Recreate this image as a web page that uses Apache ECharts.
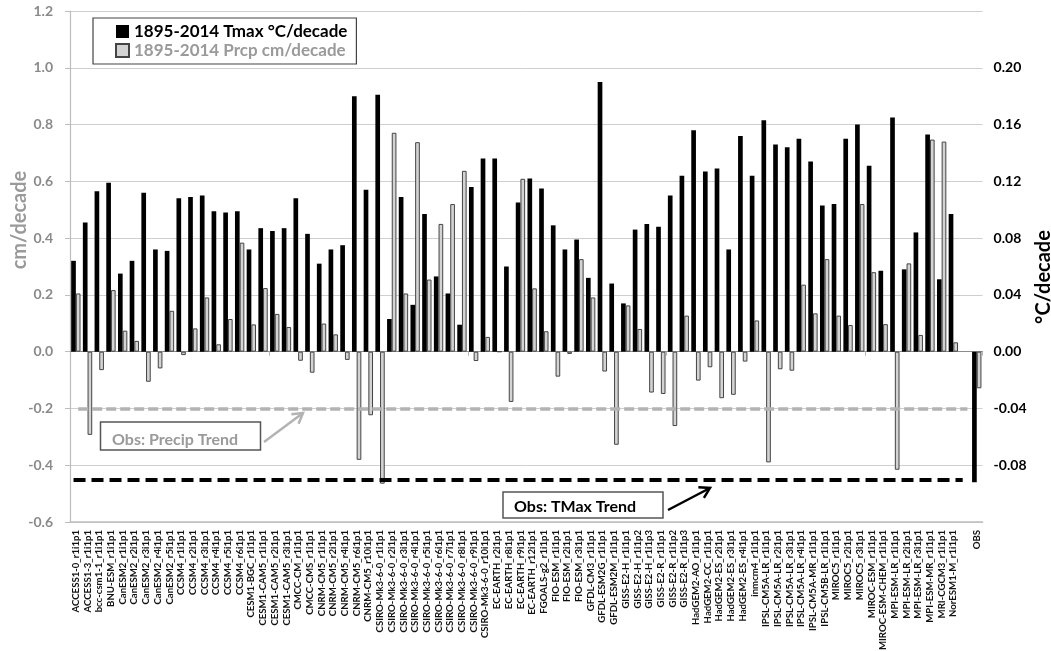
<!DOCTYPE html>
<html><head><meta charset="utf-8">
<script src="https://cdn.jsdelivr.net/npm/echarts@6/dist/echarts.min.js"></script>
<style>html,body{margin:0;padding:0;background:#fff}#c{width:1051px;height:651px}</style>
</head><body><div id="c"></div>
<script>
const categories = [
  'ACCESS1-0_r1i1p1','ACCESS1-3_r1i1p1','bcc-csm1-1_r1i1p1','BNU-ESM_r1i1p1',
  'CanESM2_r1i1p1','CanESM2_r2i1p1','CanESM2_r3i1p1','CanESM2_r4i1p1','CanESM2_r5i1p1',
  'CCSM4_r1i1p1','CCSM4_r2i1p1','CCSM4_r3i1p1','CCSM4_r4i1p1','CCSM4_r5i1p1','CCSM4_r6i1p1',
  'CESM1-BGC_r1i1p1','CESM1-CAM5_r1i1p1','CESM1-CAM5_r2i1p1','CESM1-CAM5_r3i1p1',
  'CMCC-CM_r1i1p1','CMCC-CMS_r1i1p1',
  'CNRM-CM5_r1i1p1','CNRM-CM5_r2i1p1','CNRM-CM5_r4i1p1','CNRM-CM5_r6i1p1','CNRM-CM5_r10i1p1',
  'CSIRO-Mk3-6-0_r1i1p1','CSIRO-Mk3-6-0_r2i1p1','CSIRO-Mk3-6-0_r3i1p1','CSIRO-Mk3-6-0_r4i1p1',
  'CSIRO-Mk3-6-0_r5i1p1','CSIRO-Mk3-6-0_r6i1p1','CSIRO-Mk3-6-0_r7i1p1','CSIRO-Mk3-6-0_r8i1p1',
  'CSIRO-Mk3-6-0_r9i1p1','CSIRO-Mk3-6-0_r10i1p1',
  'EC-EARTH_r2i1p1','EC-EARTH_r8i1p1','EC-EARTH_r9i1p1','EC-EARTH_r12i1p1',
  'FGOALS-g2_r1i1p1','FIO-ESM_r1i1p1','FIO-ESM_r2i1p1','FIO-ESM_r3i1p1',
  'GFDL-CM3_r1i1p1','GFDL-ESM2G_r1i1p1','GFDL-ESM2M_r1i1p1',
  'GISS-E2-H_r1i1p1','GISS-E2-H_r1i1p2','GISS-E2-H_r1i1p3',
  'GISS-E2-R_r1i1p1','GISS-E2-R_r1i1p2','GISS-E2-R_r1i1p3',
  'HadGEM2-AO_r1i1p1','HadGEM2-CC_r1i1p1','HadGEM2-ES_r2i1p1','HadGEM2-ES_r3i1p1','HadGEM2-ES_r4i1p1',
  'inmcm4_r1i1p1',
  'IPSL-CM5A-LR_r1i1p1','IPSL-CM5A-LR_r2i1p1','IPSL-CM5A-LR_r3i1p1','IPSL-CM5A-LR_r4i1p1',
  'IPSL-CM5A-MR_r1i1p1','IPSL-CM5B-LR_r1i1p1',
  'MIROC5_r1i1p1','MIROC5_r2i1p1','MIROC5_r3i1p1','MIROC-ESM_r1i1p1','MIROC-ESM-CHEM_r1i1p1',
  'MPI-ESM-LR_r1i1p1','MPI-ESM-LR_r2i1p1','MPI-ESM-LR_r3i1p1','MPI-ESM-MR_r1i1p1',
  'MRI-CGCM3_r1i1p1','NorESM1-M_r1i1p1','','OBS'
];
// 1895-2014 Tmax trend, °C/decade (right axis)
const tmaxTrend = [
  0.064,0.091,0.113,0.119,
  0.055,0.064,0.112,0.072,0.071,
  0.108,0.109,0.110,0.099,0.098,0.099,
  0.072,0.087,0.085,0.087,
  0.108,0.083,
  0.062,0.072,0.075,0.180,0.114,
  0.181,0.023,0.109,0.033,0.097,0.053,0.041,0.019,0.116,0.136,
  0.136,0.060,0.105,0.122,
  0.115,0.089,0.072,0.079,
  0.052,0.190,0.048,
  0.034,0.086,0.090,
  0.088,0.110,0.124,
  0.156,0.127,0.129,0.072,0.152,
  0.124,
  0.163,0.146,0.144,0.150,
  0.134,0.103,
  0.104,0.150,0.160,0.131,0.057,
  0.165,0.058,0.084,0.153,
  0.051,0.097,null,-0.092
];
// 1895-2014 Prcp trend, cm/decade (left axis)
const prcpTrend = [
  0.205,-0.293,-0.065,0.217,
  0.074,0.038,-0.106,-0.059,0.144,
  -0.012,0.082,0.191,0.026,0.115,0.384,
  0.096,0.224,0.133,0.087,
  -0.032,-0.074,
  0.099,0.061,-0.029,-0.381,-0.224,
  -0.465,0.771,0.205,0.738,0.254,0.450,0.520,0.637,-0.033,0.052,
  0.0,-0.177,0.609,0.223,
  0.072,-0.088,-0.008,0.326,
  0.191,-0.070,-0.328,
  0.163,0.080,-0.144,
  -0.149,-0.262,0.127,
  -0.102,-0.055,-0.164,-0.152,-0.035,
  0.110,
  -0.390,-0.062,-0.067,0.236,
  0.135,0.326,
  0.127,0.094,0.520,0.280,0.097,
  -0.416,0.311,0.059,0.747,
  0.740,0.033,null,-0.129
];
const obsPrcpTrend = -0.2;   // cm/decade
const obsTmaxTrend = -0.09;  // °C/decade
const prcpAxisRange = [-0.6, 1.2, 0.2];
const tmaxAxisRange = [-0.12, 0.24, 0.04];
const lineStart = 0, lineEnd = 76; // category indices where obs trend lines start / end

const FONT = 'Lato';
function arrow(x1, y1, x2, y2, color, w) {
  const a = Math.atan2(y2 - y1, x2 - x1), L = 10, H = 6;
  const bx = x2 - L * Math.cos(a), by = y2 - L * Math.sin(a);
  return {
    type: 'group', silent: true, children: [
      { type: 'line', shape: { x1, y1, x2, y2 }, style: { stroke: color, lineWidth: w } },
      { type: 'polyline', shape: { points: [[bx + H * Math.sin(a), by - H * Math.cos(a)], [x2, y2], [bx - H * Math.sin(a), by + H * Math.cos(a)]] },
        style: { stroke: color, lineWidth: w, fill: null } }
    ]
  };
}

const chart = echarts.init(document.getElementById('c'));
chart.setOption({
  animation: false,
  backgroundColor: '#fff',
  textStyle: { fontFamily: FONT },
  grid: { left: 70, right: 68.4, top: 11, bottom: 129, containLabel: false, outerBoundsMode: 'none' },
  legend: {
    orient: 'vertical', left: 93, top: 18,
    padding: [5, 9, 5, 22], itemGap: 2,
    itemWidth: 13, itemHeight: 13,
    borderColor: '#444', borderWidth: 1.2, backgroundColor: '#fff',
    selectedMode: false,
    textStyle: { fontFamily: FONT, fontSize: 17, fontWeight: 'bold', color: '#000' },
    data: [
      { name: '1895-2014 Tmax °C/decade', icon: 'rect', textStyle: { color: '#000' } },
      { name: '1895-2014 Prcp cm/decade', icon: 'rect', textStyle: { color: '#9a9a9a' } }
    ]
  },
  xAxis: [
    {
      type: 'category', data: categories, position: 'bottom',
      axisLine: { onZero: false, lineStyle: { color: '#bdbdbd', width: 1.5 } },
      axisTick: { show: false },
      axisLabel: { interval: 0, rotate: 90, margin: 8, fontSize: 9.6, fontWeight: 'bold', color: '#111', fontFamily: FONT },
      splitLine: { show: false }
    },
    {
      type: 'category', data: categories, position: 'bottom',
      axisLine: { onZero: true, onZeroAxisIndex: 0, lineStyle: { color: '#8c8c8c', width: 1.2 } },
      axisTick: { show: true, length: 4, lineStyle: { color: '#b5b5b5' } },
      axisLabel: { show: false },
      splitLine: { show: false }
    }
  ],
  yAxis: [
    {
      type: 'value', position: 'left',
      min: prcpAxisRange[0], max: prcpAxisRange[1], interval: prcpAxisRange[2],
      axisLine: { show: true, lineStyle: { color: '#bdbdbd', width: 1.2 } },
      axisTick: { show: true, length: 5, lineStyle: { color: '#bdbdbd' } },
      axisLabel: { margin: 17, fontSize: 14, fontWeight: 'bold', color: '#8a8a8a', fontFamily: FONT,
        formatter: v => (Math.abs(v) < 1e-9 ? 0 : v).toFixed(1) },
      splitLine: { show: true, lineStyle: { color: '#cfcfcf', width: 1 } }
    },
    {
      type: 'value', position: 'right',
      min: tmaxAxisRange[0], max: tmaxAxisRange[1], interval: tmaxAxisRange[2],
      axisLine: { show: false }, axisTick: { show: false },
      axisLabel: { margin: 11, fontSize: 14, fontWeight: 'bold', color: '#000', fontFamily: FONT,
        showMinLabel: false, showMaxLabel: false,
        formatter: v => (Math.abs(v) < 1e-9 ? 0 : v).toFixed(2) },
      splitLine: { show: false }
    }
  ],
  series: [
    {
      name: '1895-2014 Tmax °C/decade', type: 'bar', xAxisIndex: 0, yAxisIndex: 1,
      data: tmaxTrend, barGap: '0%', barCategoryGap: '20%',
      itemStyle: { color: '#000' },
      markLine: {
        silent: true, symbol: 'none', label: { show: false },
        lineStyle: { color: '#000', width: 4, type: [12, 6] },
        data: [[{ coord: [lineStart, obsTmaxTrend] }, { coord: [lineEnd, obsTmaxTrend] }]]
      }
    },
    {
      name: '1895-2014 Prcp cm/decade', type: 'bar', xAxisIndex: 0, yAxisIndex: 0,
      data: prcpTrend, barGap: '0%', barCategoryGap: '20%',
      itemStyle: { color: '#d3d3d3', borderColor: '#444', borderWidth: 1 },
      markLine: {
        silent: true, symbol: 'none', label: { show: false },
        lineStyle: { color: '#b3b3b3', width: 3.5, type: [10, 4] },
        data: [[{ coord: [lineStart, obsPrcpTrend] }, { coord: [lineEnd, obsPrcpTrend] }]]
      }
    }
  ],
  graphic: [
    { type: 'text', x: 20, y: 220, rotation: Math.PI / 2, silent: true,
      style: { text: 'cm/decade', fontFamily: FONT, fontSize: 20, fontWeight: 'bold', fill: '#9a9a9a', align: 'center', verticalAlign: 'middle' } },
    { type: 'text', x: 1044, y: 277, rotation: Math.PI / 2, silent: true,
      style: { text: '°C/decade', fontFamily: FONT, fontSize: 20, fontWeight: 'bold', fill: '#000', align: 'center', verticalAlign: 'middle' } },
    { type: 'rect', silent: true, shape: { x: 100.5, y: 422, width: 160, height: 28 },
      style: { fill: '#fff', stroke: '#555', lineWidth: 1.5 } },
    { type: 'text', x: 112, y: 440, silent: true,
      style: { text: 'Obs: Precip Trend', fontFamily: FONT, fontSize: 16, fontWeight: 'bold', fill: '#9a9a9a', verticalAlign: 'middle' } },
    arrow(264, 442, 303, 413, '#b3b3b3', 2.5),
    { type: 'rect', silent: true, shape: { x: 503, y: 492, width: 160, height: 26 },
      style: { fill: '#fff', stroke: '#555', lineWidth: 1.5 } },
    { type: 'text', x: 514, y: 507, silent: true,
      style: { text: 'Obs: TMax Trend', fontFamily: FONT, fontSize: 16, fontWeight: 'bold', fill: '#000', verticalAlign: 'middle' } },
    arrow(668, 510, 710, 488, '#000', 2.5)
  ]
});
</script>
</body></html>
